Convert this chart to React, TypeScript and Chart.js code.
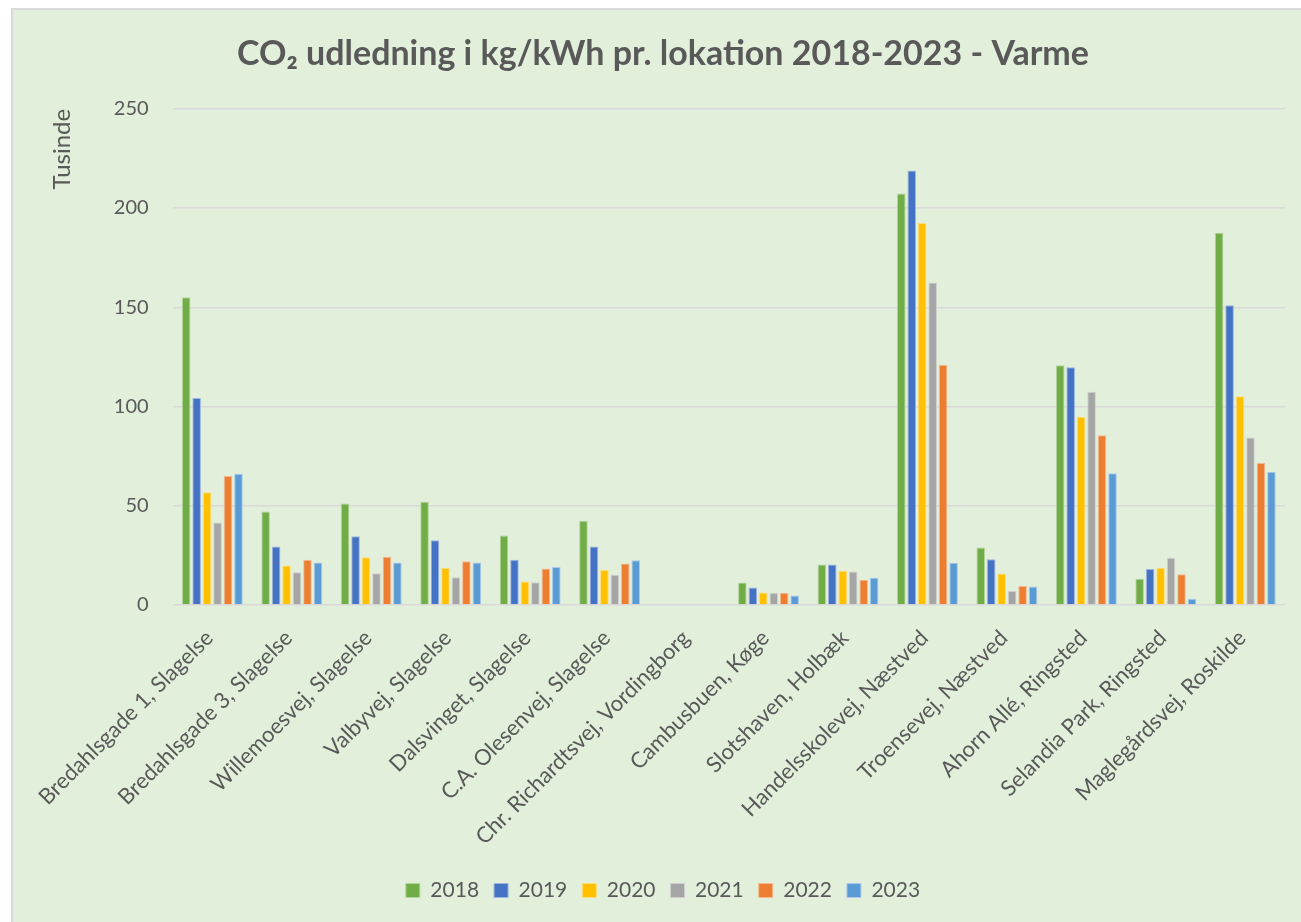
import { useEffect, useRef } from "react";
import { Chart, registerables } from "chart.js";

Chart.register(...registerables);

const categories = [
  "Bredahlsgade 1, Slagelse",
  "Bredahlsgade 3, Slagelse",
  "Willemoesvej, Slagelse",
  "Valbyvej, Slagelse",
  "Dalsvinget, Slagelse",
  "C.A. Olesenvej, Slagelse",
  "Chr. Richardtsvej, Vordingborg",
  "Cambusbuen, Køge",
  "Slotshaven, Holbæk",
  "Handelsskolevej, Næstved",
  "Troensevej, Næstved",
  "Ahorn Allé, Ringsted",
  "Selandia Park, Ringsted",
  "Maglegårdsvej, Roskilde",
];

const years = ["2018", "2019", "2020", "2021", "2022", "2023"];

const v2018 = [155.1, 47.1, 51.2, 52.0, 35.0, 42.4, null, 11.3, 20.4, 207.3, 29.0, 120.8, 13.2, 187.5];
const v2019 = [104.3, 29.5, 34.6, 32.6, 22.8, 29.5, null, 8.8, 20.4, 218.9, 23.0, 119.8, 18.2, 151.0];
const v2020 = [56.8, 19.9, 24.0, 18.7, 11.8, 17.6, null, 6.3, 17.3, 192.4, 15.9, 94.8, 18.8, 105.2];
const v2021 = [41.6, 16.5, 16.0, 14.0, 11.5, 15.2, null, 6.2, 16.9, 162.5, 7.1, 107.4, 23.8, 84.4];
const v2022 = [65.0, 22.8, 24.3, 22.1, 18.4, 20.9, null, 6.2, 12.7, 121.1, 9.6, 85.5, 15.5, 71.5];
const v2023 = [66.1, 21.4, 21.4, 21.4, 19.2, 22.5, null, 4.8, 13.7, 21.3, 9.3, 66.4, 3.2, 67.1];

const seriesValues = [v2018, v2019, v2020, v2021, v2022, v2023];

const yTicks = [0, 50, 100, 150, 200, 250];

const fills = ["#70AD47", "#4472C4", "#FFC000", "#A5A5A5", "#ED7D31", "#5B9BD5"];
const edges = ["#B3D49C", "#9DB4DF", "#FFDC78", "#CFCFCF", "#F4B990", "#A8C9E8"];

const TEXT = "#595959";
const FONT = "Lato, 'Open Sans', sans-serif";

export default function App() {
  const ref = useRef<HTMLCanvasElement | null>(null);

  useEffect(() => {
    if (!ref.current) return;
    const chart = new Chart(ref.current, {
      type: "bar",
      data: {
        labels: categories,
        datasets: years.map((y, i) => ({
          label: y,
          data: seriesValues[i],
          backgroundColor: fills[i],
          borderColor: edges[i],
          borderWidth: 1,
          categoryPercentage: 0.79,
          barPercentage: 0.82,
        })),
      },
      options: {
        responsive: false,
        animation: false,
        layout: { padding: { left: 28, right: 28, top: 0, bottom: 29 } },
        plugins: {
          title: {
            display: true,
            text: "CO₂ udledning i kg/kWh pr. lokation 2018-2023 - Varme",
            color: TEXT,
            font: { family: FONT, size: 34, weight: "bold" },
            padding: { top: 24, bottom: 34 },
          },
          legend: {
            position: "bottom",
            labels: {
              color: TEXT,
              font: { family: FONT, size: 21 },
              boxWidth: 14,
              boxHeight: 14,
              padding: 15,
            },
          },
          tooltip: { enabled: false },
        },
        scales: {
          x: {
            grid: { display: false },
            border: { display: false },
            ticks: {
              color: TEXT,
              font: { family: FONT, size: 22 },
              minRotation: 45,
              maxRotation: 45,
              autoSkip: false,
              padding: 12,
              labelOffset: -3,
            },
            afterFit: (scale: any) => {
              scale.height = 260;
            },
          },
          y: {
            min: 0,
            max: 250,
            afterBuildTicks: (scale: any) => {
              scale.ticks = yTicks.map((v) => ({ value: v }));
            },
            grid: { color: "#D9D9D9", lineWidth: 1.5, drawTicks: false },
            border: { display: false },
            ticks: {
              color: TEXT,
              font: { family: FONT, size: 20 },
              padding: 24,
            },
            title: {
              display: true,
              text: "Tusinde",
              align: "end",
              color: TEXT,
              font: { family: FONT, size: 24 },
              padding: { top: 7, bottom: 13 },
            },
          },
        },
      },
    });
    return () => chart.destroy();
  }, []);

  return (
    <div
      style={{
        position: "fixed",
        left: 0,
        top: 0,
        width: 1301,
        height: 922,
        overflow: "hidden",
        background: "#ffffff",
      }}
    >
      <div
        style={{
          position: "absolute",
          left: 11,
          top: 8,
          width: 1304,
          height: 940,
          boxSizing: "border-box",
          border: "2px solid #D9D9D9",
          background: "#E2EFDA",
        }}
      >
        <canvas
          ref={ref}
          width={1300}
          height={930}
          style={{ position: "absolute", left: 0, top: 0, width: 1300, height: 930 }}
        />
      </div>
    </div>
  );
}
